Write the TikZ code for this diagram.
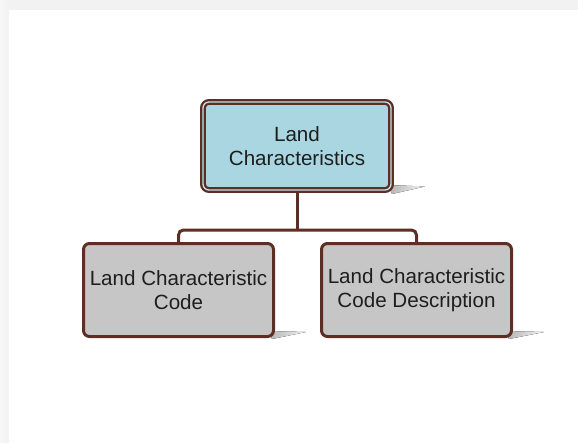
\documentclass[tikz,border=0pt]{standalone}
\usepackage{fontspec}
\setmainfont{Liberation Sans}
\begin{document}
\definecolor{edge}{RGB}{92,46,36}
\definecolor{topfill}{RGB}{169,214,224}
\definecolor{leaffill}{RGB}{198,198,198}
\definecolor{frame}{RGB}{242,242,242}
\definecolor{ink}{RGB}{30,30,30}
\begin{tikzpicture}[x=1pt,y=-1pt,
  labeltext/.style={align=center,text=ink,font=\fontsize{20.6}{24}\selectfont},
  rootbox/.style={labeltext,rectangle,rounded corners=6pt,draw=edge,line width=2.3pt,
    double=topfill!70!white,double distance=1.3pt,fill=topfill,minimum width=188pt,minimum height=88pt,inner sep=0pt},
  leafbox/.style={labeltext,rectangle,rounded corners=6pt,draw=edge,line width=3pt,
    fill=leaffill,minimum width=190pt,minimum height=93pt,inner sep=0pt},
  conn/.style={draw=edge,line width=3pt,rounded corners=5pt},
  dropshade/.style={left color=black!30,right color=black!5,draw=none}]
\useasboundingbox (0,0) rectangle (578,442);
% page frame
\fill[frame] (0,0) rectangle (578,442);
\fill[left color=frame!60,right color=frame] (0,0) rectangle (9,442);
\fill[white] (9,10) rectangle (578,442);
% cast shadows
\fill[dropshade] (388,185) -- (425,186.5) -- (392,194) -- cycle;
\fill[dropshade] (268,331) -- (306,332) -- (272,339) -- cycle;
\fill[dropshade] (505,331) -- (544,332) -- (509,339) -- cycle;
% boxes
\node[rootbox] (root) at (297,146) {Land\\Characteristics};
\node[leafbox] (code) at (178.5,290) {Land Characteristic\\Code};
\node[leafbox] (desc) at (416.5,290) {Land Characteristic\\Code Description};
% connectors
\coordinate (bus) at (297,230);
\draw[conn] (root.south) -- (bus);
\draw[conn] (code.north) |- (bus) -| (desc.north);
\end{tikzpicture}
\end{document}
